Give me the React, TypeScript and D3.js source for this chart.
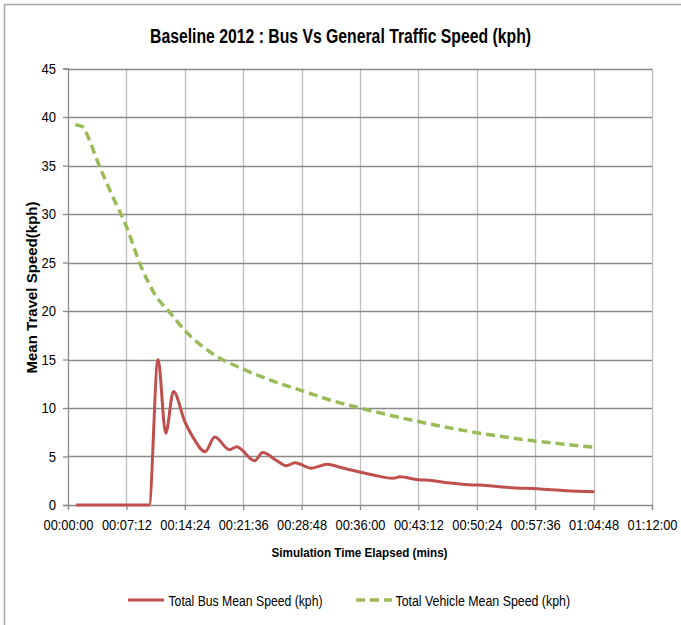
import React, { useEffect, useRef } from 'react';
import * as d3 from 'd3';

// minutes elapsed / kph
const busMinutes = [1.0, 10.0, 11.1, 12.05, 13.0, 14.4, 15.4, 16.9, 18.1, 19.9, 20.8, 23.0, 24.0, 25.7, 26.9, 28.0, 30.0, 32.0, 33.5, 34.9, 37.6, 40.1, 40.9, 43.2, 44.2, 46.7, 49.9, 51.2, 54.0, 58.2, 61.4, 64.9];
const busSpeed = [0, 0, 15.0, 7.4, 11.7, 8.6, 7.0, 5.5, 7.0, 5.7, 6.0, 4.55, 5.4, 4.6, 4.05, 4.35, 3.8, 4.2, 3.9, 3.6, 3.1, 2.75, 2.9, 2.6, 2.58, 2.3, 2.06, 2.04, 1.82, 1.65, 1.48, 1.37];

const vehMinutes = [0.9, 1.8, 2.5, 3.6, 5.4, 7.2, 9.0, 10.8, 12.6, 14.4, 18.0, 21.6, 25.2, 28.8, 32.4, 36.0, 43.2, 50.4, 57.6, 64.9];
const vehSpeed = [39.2, 39.0, 37.9, 35.5, 32.0, 28.7, 24.6, 21.6, 19.8, 18.0, 15.5, 14.0, 12.8, 11.8, 10.8, 10.0, 8.6, 7.45, 6.6, 5.95];

const xTickLabels = ['00:00:00', '00:07:12', '00:14:24', '00:21:36', '00:28:48', '00:36:00', '00:43:12', '00:50:24', '00:57:36', '01:04:48', '01:12:00'];
const yTicks = [0, 5, 10, 15, 20, 25, 30, 35, 40, 45];

const FONT = '"Liberation Sans", Arial, sans-serif';

export default function App() {
    const ref = useRef<SVGSVGElement | null>(null);
    useEffect(() => {
        const svg = d3.select(ref.current);
        svg.selectAll('*').remove();
        const width = 681, height = 625;
        const margin = { top: 68.5, right: 29, bottom: 120, left: 68 };

        const x = d3.scaleLinear().domain([0, 72]).range([margin.left, width - margin.right]);
        const y = d3.scaleLinear().domain([0, 45]).range([height - margin.bottom, margin.top]);

        svg.append('rect').attr('width', width).attr('height', height).attr('fill', '#fff');
        // outer chart border (only top/left visible in the picture)
        svg.append('path').attr('d', `M4.5,${height}V4.5H${width}`).attr('fill', 'none').attr('stroke', '#a6a6a6').attr('stroke-width', 1.5);

        const xTicks = xTickLabels.map((_, i) => i * 7.2);

        // grid
        svg.append('g').selectAll('line').data(xTicks.slice(1)).join('line')
            .attr('x1', d => Math.round(x(d)) + 0.5).attr('x2', d => Math.round(x(d)) + 0.5)
            .attr('y1', y(45)).attr('y2', y(0))
            .attr('stroke', '#bdbdbd').attr('stroke-width', 1.3);
        svg.append('g').selectAll('line').data(yTicks.slice(1)).join('line')
            .attr('x1', x(0)).attr('x2', x(72))
            .attr('y1', d => Math.round(y(d)) + 0.5).attr('y2', d => Math.round(y(d)) + 0.5)
            .attr('stroke', '#8a8a8a').attr('stroke-width', 1.3);

        // axes
        const yAxis = svg.append('g').attr('transform', `translate(${x(0)},0)`)
            .call(d3.axisLeft(y).tickValues(yTicks).tickSize(5).tickPadding(7));
        const xAxis = svg.append('g').attr('transform', `translate(0,${y(0)})`)
            .call(d3.axisBottom(x).tickValues(xTicks).tickSize(5).tickPadding(10)
                .tickFormat((_, i) => xTickLabels[i]));
        [xAxis, yAxis].forEach(a => {
            a.select('.domain').attr('stroke', '#8a8a8a').attr('stroke-width', 1.3);
            a.selectAll('.tick line').attr('stroke', '#8a8a8a').attr('stroke-width', 1.3);
            a.selectAll('.tick text').attr('fill', '#000').style('font-family', FONT).style('font-size', '14.5px');
        });
        xAxis.selectAll('.tick text').attr('textLength', 50).attr('lengthAdjust', 'spacingAndGlyphs');
        yAxis.selectAll('.tick text').attr('textLength', (d: any) => (String(d).length > 1 ? 14.5 : 7.3))
            .attr('lengthAdjust', 'spacingAndGlyphs');

        const line = d3.line<[number, number]>().x(d => x(d[0])).y(d => y(d[1])).curve(d3.curveMonotoneX);

        svg.append('path').datum(vehMinutes.map((t, i) => [t, vehSpeed[i]] as [number, number]))
            .attr('d', line).attr('fill', 'none').attr('stroke', '#9bbb59').attr('stroke-width', 3.5)
            .attr('stroke-dasharray', '9,5');
        svg.append('path').datum(busMinutes.map((t, i) => [t, busSpeed[i]] as [number, number]))
            .attr('d', line).attr('fill', 'none').attr('stroke', '#c0504d').attr('stroke-width', 3)
            .attr('stroke-linejoin', 'round');

        // titles (Calibri-like narrow widths via textLength)
        svg.append('text').attr('x', 340.5).attr('y', 43).attr('text-anchor', 'middle')
            .attr('textLength', 381).attr('lengthAdjust', 'spacingAndGlyphs')
            .style('font-family', FONT).style('font-size', '20px').style('font-weight', 'bold')
            .text('Baseline 2012 : Bus Vs General Traffic Speed (kph)');
        svg.append('text').attr('transform', `translate(37,287.5) rotate(-90)`).attr('text-anchor', 'middle')
            .attr('textLength', 172).attr('lengthAdjust', 'spacingAndGlyphs')
            .style('font-family', FONT).style('font-size', '14px').style('font-weight', 'bold')
            .text('Mean Travel Speed(kph)');
        svg.append('text').attr('x', 359.5).attr('y', 557).attr('text-anchor', 'middle')
            .attr('textLength', 176).attr('lengthAdjust', 'spacingAndGlyphs')
            .style('font-family', FONT).style('font-size', '13.5px').style('font-weight', 'bold')
            .text('Simulation Time Elapsed (mins)');

        // legend
        const legend = [
            { label: 'Total Bus Mean Speed (kph)', color: '#c0504d', dash: null, x0: 128, tx: 168.5, w: 154 },
            { label: 'Total Vehicle Mean Speed (kph)', color: '#9bbb59', dash: '9,5', x0: 356, tx: 395.5, w: 174.5 },
        ];
        const lg = svg.append('g').selectAll('g').data(legend).join('g');
        lg.append('line').attr('x1', d => d.x0).attr('x2', d => d.x0 + 36).attr('y1', 600).attr('y2', 600)
            .attr('stroke', d => d.color).attr('stroke-width', d => d.dash ? 3.5 : 3)
            .attr('stroke-dasharray', d => d.dash);
        lg.append('text').attr('x', d => d.tx).attr('y', 606)
            .attr('textLength', d => d.w).attr('lengthAdjust', 'spacingAndGlyphs')
            .style('font-family', FONT).style('font-size', '15px').text(d => d.label);
    }, []);
    return <svg ref={ref} width={681} height={625} style={{ position: 'absolute', left: 0, top: 0 }} />;
}
